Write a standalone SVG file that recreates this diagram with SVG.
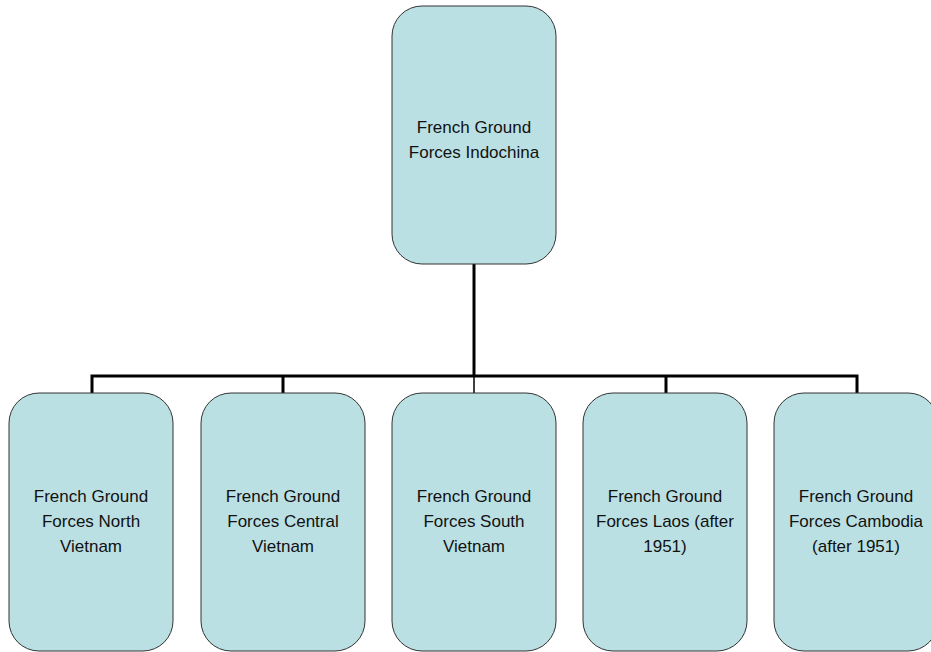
<svg xmlns="http://www.w3.org/2000/svg" width="931" height="652" viewBox="0 0 931 652">
<style>
.box{fill:#BBE0E3;stroke:#333;stroke-width:1}
.t{font-family:"Liberation Sans",Arial,sans-serif;font-size:17px;fill:#111;text-anchor:middle}
.c{fill:none;stroke:#000;stroke-width:3}
</style>
<rect width="931" height="652" fill="#fff"/>
<g id="connectors">
<path class="c" d="M474 264V376"/>
<path class="c" d="M92 393V376H857V393"/>
<path class="c" d="M283 376V393M666 376V393"/>
<path class="c" style="stroke-width:1.5" d="M474 376V393"/>
</g>
<g id="n0"><rect class="box" x="392" y="6" width="164" height="258" rx="30"/>
<text class="t" x="474" y="133">French Ground</text><text class="t" x="474" y="158">Forces Indochina</text></g>
<g id="n1"><rect class="box" x="9" y="393" width="164" height="258" rx="30"/>
<text class="t" x="91" y="502">French Ground</text><text class="t" x="91" y="527">Forces North</text><text class="t" x="91" y="552">Vietnam</text></g>
<g id="n2"><rect class="box" x="201" y="393" width="164" height="258" rx="30"/>
<text class="t" x="283" y="502">French Ground</text><text class="t" x="283" y="527">Forces Central</text><text class="t" x="283" y="552">Vietnam</text></g>
<g id="n3"><rect class="box" x="392" y="393" width="164" height="258" rx="30"/>
<text class="t" x="474" y="502">French Ground</text><text class="t" x="474" y="527">Forces South</text><text class="t" x="474" y="552">Vietnam</text></g>
<g id="n4"><rect class="box" x="583" y="393" width="164" height="258" rx="30"/>
<text class="t" x="665" y="502">French Ground</text><text class="t" x="665" y="527">Forces Laos (after</text><text class="t" x="665" y="552">1951)</text></g>
<g id="n5"><rect class="box" x="774" y="393" width="164" height="258" rx="30"/>
<text class="t" x="856" y="502">French Ground</text><text class="t" x="856" y="527">Forces Cambodia</text><text class="t" x="856" y="552">(after 1951)</text></g>
</svg>
